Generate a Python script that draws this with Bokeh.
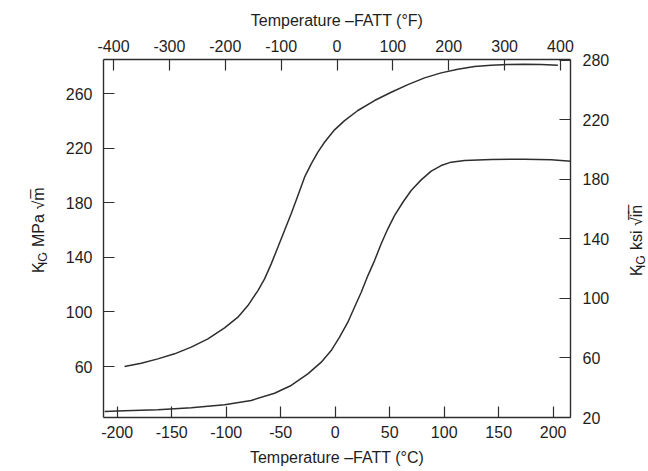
import math
from bokeh.plotting import figure
from bokeh.layouts import row
from bokeh.models import Range1d, LinearAxis, FixedTicker
from bokeh.core.properties import value
from bokeh.embed import file_html
from bokeh.resources import INLINE

# ---- data ----
c_ticks = [-200, -150, -100, -50, 0, 50, 100, 150, 200]
c_labels = ["-200", "-150", "-100", "-50", "0", "50", "100", "150", "200"]
f_ticks = [-400, -300, -200, -100, 0, 100, 200, 300, 400]
f_labels = ["-400", "-300", "-200", "-100", "0", "100", "200", "300", "400"]
mpa_ticks = [60, 100, 140, 180, 220, 260]
mpa_labels = ["60", "100", "140", "180", "220", "260"]
ksi_ticks = [20, 60, 100, 140, 180, 220, 260]
ksi_labels = ["20", "60", "100", "140", "180", "220", "280"]

upper_c = [-193.3, -178.0, -162.7, -147.4, -132.1, -116.8, -101.5, -89.3, -80.1, -70.9,
           -64.8, -58.7, -52.6, -46.5, -40.4, -34.2, -28.1, -22.0, -15.9, -9.8, -0.6,
           8.6, 20.8, 36.1, 51.4, 66.7, 82.0, 97.2, 112.5, 127.8, 143.1, 158.4, 173.7,
           189.0, 204.3]
upper_k = [60.0, 62.4, 65.6, 69.3, 74.2, 80.3, 88.4, 96.2, 104.7, 115.7, 124.3, 135.3,
           147.5, 159.7, 172.0, 185.4, 198.9, 208.6, 217.2, 224.5, 233.6, 240.4, 247.8,
           255.1, 261.2, 266.8, 271.7, 275.4, 278.1, 280.0, 281.0, 281.5, 281.7, 281.5,
           281.0]

lower_c = [-211.6, -193.3, -162.7, -132.1, -101.5, -77.1, -55.7, -40.4, -25.1, -12.8,
           -3.7, 4.0, 11.6, 17.7, 23.9, 30.0, 36.1, 42.2, 48.3, 54.4, 62.1, 69.7, 78.9,
           88.1, 97.2, 106.4, 118.7, 143.1, 173.7, 198.2, 216.5]
lower_k = [27.0, 27.5, 28.2, 29.7, 31.9, 35.1, 40.4, 46.1, 54.6, 63.2, 71.7, 81.5, 92.5,
           103.5, 114.5, 126.7, 137.7, 150.0, 161.0, 170.7, 180.5, 189.1, 196.9, 203.3,
           207.4, 209.9, 211.1, 211.8, 212.1, 211.6, 210.6]

FONT = "Liberation Sans"
TXT = "#1e1e1e"
LINE = "#2e2e2e"
H = 471
LW = 60   # left title strip
RW = 28   # right title strip
MW = 648 - LW - RW

p = figure(width=MW, height=H, output_backend="svg", toolbar_location=None,
           x_range=Range1d(-212.6, 215.9), y_range=Range1d(22.6, 285.2),
           min_border_left=103 - LW, min_border_right=(LW + MW) - 570,
           min_border_top=59, min_border_bottom=54)
p.xgrid.visible = False
p.ygrid.visible = False
p.outline_line_color = None
p.background_fill_color = "white"
p.border_fill_color = "white"
p.extra_x_ranges = {"F": Range1d(-418, 418)}
p.extra_y_ranges = {"ksi": Range1d(20, 260.6)}

bottom = p.below[0]
left = p.left[0]
top = LinearAxis(x_range_name="F")
right = LinearAxis(y_range_name="ksi")
p.add_layout(top, "above")
p.add_layout(right, "right")


def style(ax, ticks, labels):
    ax.ticker = FixedTicker(ticks=ticks, minor_ticks=[])
    ax.major_label_overrides = {t: s for t, s in zip(ticks, labels)}
    ax.major_tick_in = 11
    ax.major_tick_out = 0
    ax.minor_tick_in = 0
    ax.minor_tick_out = 0
    ax.major_tick_line_color = LINE
    ax.major_tick_line_width = 1.2
    ax.axis_line_color = LINE
    ax.axis_line_width = 1.4
    ax.major_label_text_font = FONT
    ax.major_label_text_font_size = "16px"
    ax.major_label_text_color = TXT
    ax.axis_label_text_font = FONT
    ax.axis_label_text_font_size = "16px"
    ax.axis_label_text_font_style = "normal"
    ax.axis_label_text_color = TXT


style(bottom, c_ticks, c_labels)
style(top, f_ticks, f_labels)
style(left, mpa_ticks, mpa_labels)
style(right, ksi_ticks, ksi_labels)

bottom.axis_label = "Temperature \u2013FATT (\u00b0C)"
bottom.major_label_standoff = 8
bottom.axis_label_standoff = 8
top.axis_label = "Temperature \u2013FATT (\u00b0F)"
top.major_label_standoff = 8
top.axis_label_standoff = 8
left.major_label_standoff = 11
right.major_label_standoff = 12

p.line(upper_c, upper_k, line_color=LINE, line_width=1.5)
p.line(lower_c, lower_k, line_color=LINE, line_width=1.5)


def strip(w):
    s = figure(width=w, height=H, output_backend="svg", toolbar_location=None,
               x_range=Range1d(0, w), y_range=Range1d(0, H),
               x_axis_type=None, y_axis_type=None,
               min_border=0, min_border_left=0, min_border_right=0,
               min_border_top=0, min_border_bottom=0)
    s.xgrid.visible = False
    s.ygrid.visible = False
    s.outline_line_color = None
    s.background_fill_color = "white"
    s.border_fill_color = "white"
    return s


def vtitle(s, xb, ytop_start, rest):
    # xb: baseline x (px from strip left); ytop_start: start position (px from top)
    y0 = H - ytop_start
    k_w = 0.667 * 16
    ic_w = 1.0 * 12
    common = dict(angle=math.pi / 2, text_font=value(FONT), text_color=TXT,
                  text_align="left", text_baseline="alphabetic")
    s.text(x=[xb], y=[y0], text=["K"], text_font_size=value("16px"), **common)
    s.text(x=[xb + 4], y=[y0 + k_w], text=["IC"], text_font_size=value("12px"), **common)
    s.text(x=[xb], y=[y0 + k_w + ic_w], text=[rest], text_font_size=value("16px"), **common)


ls = strip(LW)
vtitle(ls, 38, 281, ", MPa \u221am\u0305")
rs = strip(RW)
vtitle(rs, 636 - (648 - RW), 285, ", ksi \u221ai\u0305n\u0305")

layout = row(ls, p, rs, spacing=0)
open("out.html", "w").write(file_html(layout, INLINE))
